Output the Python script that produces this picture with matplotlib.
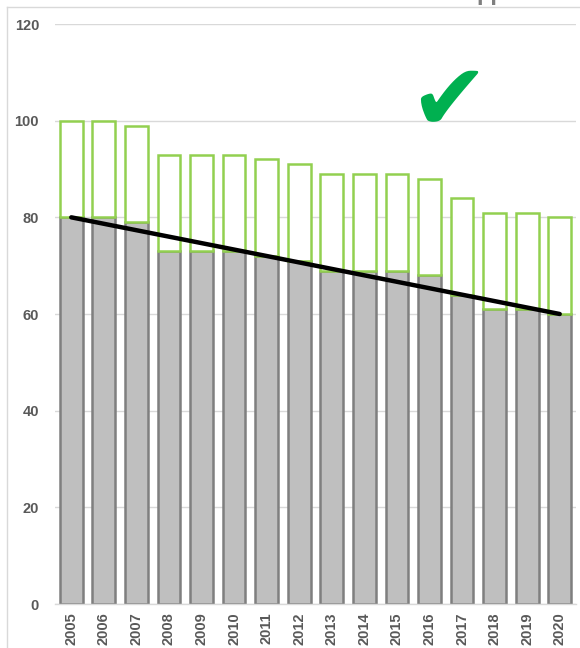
import matplotlib
matplotlib.use("Agg")
import matplotlib.pyplot as plt
from matplotlib.lines import Line2D

years = ["2005", "2006", "2007", "2008", "2009", "2010", "2011", "2012",
         "2013", "2014", "2015", "2016", "2017", "2018", "2019", "2020"]
actual = [80, 80, 79, 73, 73, 73, 72, 71, 69, 69, 69, 68, 64, 61, 61, 60]
total = [100, 100, 99, 93, 93, 93, 92, 91, 89, 89, 89, 88, 84, 81, 81, 80]
trend_ends = [80, 60]
y_ticks = [0, 20, 40, 60, 80, 100, 120]

label_color = "#595959"
grid_color = "#D9D9D9"

fig = plt.figure(figsize=(5.8, 6.48), dpi=100)
ax = fig.add_axes([55 / 580, 44 / 648, (576 - 55) / 580, (604 - 24) / 648])

x = list(range(len(years)))
gap = [t - a for t, a in zip(total, actual)]

ax.bar(x, actual, width=0.7, color="#BFBFBF", edgecolor="#7F7F7F", linewidth=1.8, zorder=2)
ax.bar(x, gap, bottom=actual, width=0.7, color="white", edgecolor="#92D050", linewidth=1.8, zorder=3)
ax.plot([x[0], x[-1]], trend_ends, color="black", linewidth=3.2, solid_capstyle="round", zorder=4)

ax.set_ylim(0, 120)
ax.set_xlim(-0.5, len(years) - 0.5)
ax.set_yticks(y_ticks)
ax.set_yticklabels([str(v) for v in y_ticks], fontfamily="Liberation Sans", fontweight="bold",
                   fontsize=10.5, color=label_color)
ax.set_xticks(x)
ax.set_xticklabels(years, rotation=90, fontfamily="Liberation Sans", fontweight="bold",
                   fontsize=10.5, color=label_color)
ax.tick_params(axis="y", length=0, pad=11.5)
ax.tick_params(axis="x", length=0, pad=6)
ax.yaxis.grid(True, color=grid_color, linewidth=1.0, zorder=0)
ax.set_axisbelow(True)
for s in ["left", "right", "top"]:
    ax.spines[s].set_visible(False)
ax.spines["bottom"].set_color(grid_color)
ax.spines["bottom"].set_linewidth(1.0)

# check mark
ax.text(11.6, 103.5, "\u2714", fontsize=68, color="#00B050", ha="center", va="center",
        fontfamily="DejaVu Sans", zorder=5)

# cut-off title descenders at the top edge
fig.text(476 / 580, 1.0, "pp", fontsize=17, fontfamily="Liberation Sans", fontweight="bold",
         color="#7F7F7F", ha="left", va="baseline")

# outer frame of chart area
fig.add_artist(Line2D([7 / 580, 7 / 580], [0, 1 - 7 / 648], transform=fig.transFigure,
                      color=grid_color, linewidth=1.0))
fig.add_artist(Line2D([7 / 580, 1], [1 - 7 / 648, 1 - 7 / 648], transform=fig.transFigure,
                      color=grid_color, linewidth=1.0))

fig.savefig("out.png", dpi=100)
